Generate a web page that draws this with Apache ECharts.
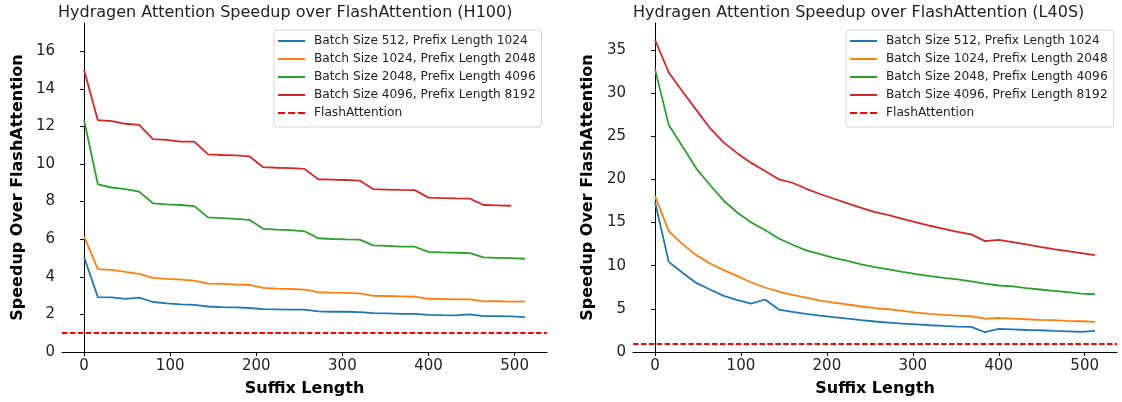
<!DOCTYPE html>
<html>
<head>
<meta charset="utf-8">
<script src="https://cdn.jsdelivr.net/npm/echarts@6/dist/echarts.min.js"></script>
<style>html,body{margin:0;padding:0;background:#fff}#c{width:1122px;height:402px}</style>
</head>
<body>
<div id="c"></div>
<script>
// ---- data ----
const suffixLengths = [0,16,32,48,64,80,96,112,128,144,160,176,192,208,224,240,256,272,288,304,320,336,352,368,384,400,416,432,448,464,480,496,512];
const seriesNames = [
  'Batch Size 512, Prefix Length 1024',
  'Batch Size 1024, Prefix Length 2048',
  'Batch Size 2048, Prefix Length 4096',
  'Batch Size 4096, Prefix Length 8192'
];
const baselineName = 'FlashAttention';
const baselineValue = 1;

// H100
const h100_bs512 = [5.05,2.92,2.91,2.83,2.89,2.66,2.59,2.53,2.51,2.42,2.39,2.37,2.34,2.28,2.27,2.25,2.25,2.16,2.14,2.14,2.12,2.07,2.05,2.03,2.03,1.98,1.96,1.95,2.00,1.91,1.91,1.90,1.85];
const h100_bs1024 = [6.15,4.41,4.37,4.26,4.16,3.94,3.89,3.85,3.80,3.64,3.62,3.59,3.57,3.41,3.37,3.35,3.32,3.19,3.16,3.14,3.12,2.99,2.98,2.96,2.94,2.83,2.82,2.80,2.80,2.69,2.71,2.68,2.69];
const h100_bs2048 = [12.35,8.92,8.75,8.66,8.53,7.91,7.85,7.82,7.76,7.16,7.12,7.08,7.03,6.55,6.51,6.48,6.42,6.05,6.01,5.99,5.98,5.67,5.64,5.60,5.60,5.33,5.30,5.28,5.26,5.03,5.01,4.99,4.96];
const h100_bs4096 = [15.0,12.33,12.28,12.14,12.08,11.32,11.28,11.19,11.19,10.51,10.48,10.46,10.41,9.83,9.80,9.78,9.74,9.19,9.17,9.15,9.12,8.66,8.64,8.62,8.61,8.21,8.19,8.17,8.16,7.82,7.80,7.78];

// L40S
const l40s_bs512 = [17.4,10.44,9.17,8.0,7.24,6.5,6.0,5.61,6.08,4.92,4.64,4.41,4.22,4.03,3.87,3.68,3.53,3.41,3.29,3.21,3.10,3.02,2.95,2.90,2.29,2.67,2.63,2.55,2.52,2.44,2.40,2.32,2.44];
const l40s_bs1024 = [18.06,14.0,12.49,11.22,10.25,9.48,8.78,8.05,7.47,7.0,6.61,6.31,5.96,5.73,5.50,5.27,5.07,4.95,4.76,4.57,4.41,4.29,4.22,4.14,3.87,3.94,3.87,3.79,3.71,3.68,3.60,3.56,3.48];
const l40s_bs2048 = [32.76,26.3,23.8,21.27,19.34,17.52,16.13,15.0,14.12,13.15,12.42,11.76,11.33,10.9,10.56,10.14,9.83,9.56,9.28,9.01,8.78,8.58,8.40,8.17,7.93,7.70,7.59,7.39,7.24,7.08,6.93,6.77,6.69];
const l40s_bs4096 = [36.16,32.37,30.16,28.04,25.92,24.25,23.0,21.9,20.96,20.0,19.6,18.9,18.3,17.75,17.2,16.7,16.2,15.86,15.43,15.0,14.62,14.27,13.92,13.62,12.84,12.99,12.73,12.46,12.18,11.91,11.68,11.45,11.22];

const xTicks = [0,100,200,300,400,500];
const yTicksH100 = [0,2,4,6,8,10,12,14,16];
const yTicksL40S = [0,5,10,15,20,25,30,35];

const titles = [
  'Hydragen Attention Speedup over FlashAttention (H100)',
  'Hydragen Attention Speedup over FlashAttention (L40S)'
];
const xName = 'Suffix Length';
const yName = 'Speedup Over FlashAttention';

// ---- chart ----
const colors = ['#1f77b4','#ff7f0e','#2ca02c','#d62728'];
const FONT = 'DejaVu Sans';
const TXT = '#222';
const chart = echarts.init(document.getElementById('c'), null, {renderer: 'canvas'});

const grids = [
  {left: 62, right: 575, top: 23, bottom: 50},
  {left: 633, right: 5, top: 23, bottom: 50}
];
const yMax = [17.5, 38.1];
const yTickSets = [yTicksH100, yTicksL40S];

function pairs(vals) { return vals.map((v, i) => [suffixLengths[i], v]); }

const xAxes = grids.map((g, i) => ({
  type: 'value', gridIndex: i, min: -25.6, max: 537.6,
  name: xName, nameLocation: 'middle', nameGap: 29,
  nameTextStyle: {fontFamily: FONT, fontWeight: 'bold', fontSize: 16, color: '#000'},
  splitLine: {show: false},
  axisLine: {show: true, onZero: false, lineStyle: {color: '#000', width: 1}},
  axisTick: {show: true, length: 4, lineStyle: {color: '#000'}, customValues: xTicks},
  axisLabel: {fontFamily: FONT, fontSize: 15, color: TXT, margin: 7, customValues: xTicks}
}));
const yAxes = grids.map((g, i) => ({
  type: 'value', gridIndex: i, min: 0, max: yMax[i],
  name: yName, nameLocation: 'middle', nameGap: i === 0 ? 36 : 37, nameRotate: 90,
  nameTextStyle: {fontFamily: FONT, fontWeight: 'bold', fontSize: 16, color: '#000'},
  splitLine: {show: false},
  axisLine: {show: true, lineStyle: {color: '#000', width: 1}},
  axisTick: {show: true, length: 4, lineStyle: {color: '#000'}, customValues: yTickSets[i]},
  axisLabel: {fontFamily: FONT, fontSize: 15, color: TXT, margin: 7, customValues: yTickSets[i]}
}));

const dataSets = [
  [h100_bs512, h100_bs1024, h100_bs2048, h100_bs4096],
  [l40s_bs512, l40s_bs1024, l40s_bs2048, l40s_bs4096]
];
const series = [];
dataSets.forEach((set, gi) => {
  set.forEach((vals, si) => {
    series.push({
      type: 'line', name: seriesNames[si], xAxisIndex: gi, yAxisIndex: gi,
      data: pairs(vals), symbol: 'none', showSymbol: false,
      lineStyle: {color: colors[si], width: 1.8}, itemStyle: {color: colors[si]},
      z: 3
    });
  });
  series.push({
    type: 'line', name: baselineName, xAxisIndex: gi, yAxisIndex: gi,
    data: [], symbol: 'none', showSymbol: false,
    lineStyle: {color: '#ff0000', width: 1.8, type: [5.5, 2.4]}, itemStyle: {color: '#ff0000'},
    markLine: {
      silent: true, symbol: ['none','none'], label: {show: false},
      lineStyle: {color: '#ff0000', width: 1.8, type: [5.5, 2.4]},
      data: [{yAxis: baselineValue}]
    }
  });
});

const dashIcon = 'path://M0,0h7v2h-7z M10.2,0h7v2h-7z M20,0h7v2h-7z';
const legendData = seriesNames.map(n => ({name: n, icon: 'rect'}))
  .concat([{name: baselineName, icon: dashIcon}]);
const legends = [{left: 274}, {left: 846}].map(p => ({
  orient: 'vertical', left: p.left, top: 30,
  data: legendData,
  itemWidth: 27, itemHeight: 2, itemGap: 6,
  padding: [5, 6, 8, 4],
  backgroundColor: 'rgba(255,255,255,0.8)',
  borderColor: '#d5d5d5', borderWidth: 1, borderRadius: 3,
  itemStyle: {borderWidth: 0},
  textStyle: {fontFamily: FONT, fontSize: 12.2, color: TXT, padding: [0,0,0,4]},
  selectedMode: false
}));

chart.setOption({
  animation: false,
  backgroundColor: '#fff',
  title: titles.map((t, i) => ({
    text: t, left: i === 0 ? 58 : 633, top: 5, padding: 0,
    textStyle: {fontFamily: FONT, fontSize: 16, fontWeight: 'normal', color: TXT}
  })),
  grid: grids,
  xAxis: xAxes,
  yAxis: yAxes,
  legend: legends,
  series: series
});
</script>
</body>
</html>
